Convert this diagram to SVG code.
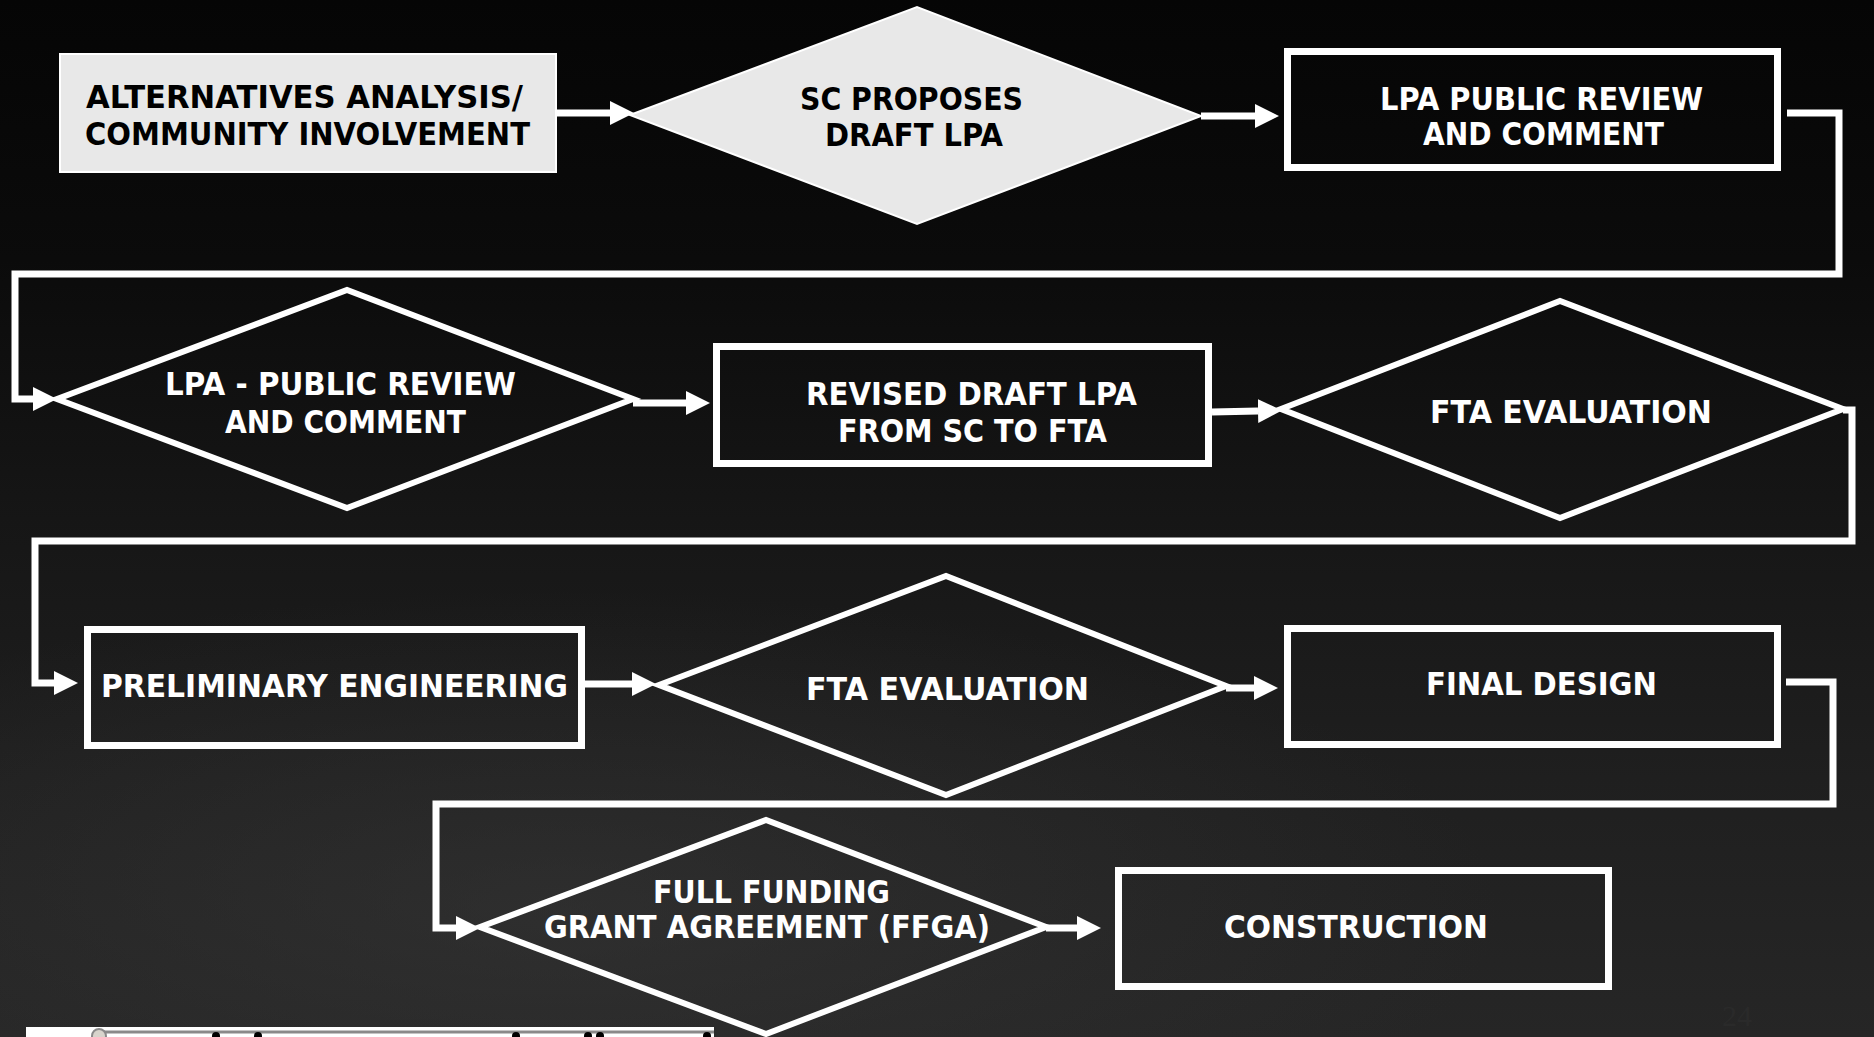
<svg xmlns="http://www.w3.org/2000/svg" width="1874" height="1037" viewBox="0 0 1874 1037">
<defs>
<linearGradient id="bg" x1="0" y1="0" x2="0" y2="1">
<stop offset="0" stop-color="#050505"/>
<stop offset="0.25" stop-color="#0b0b0b"/>
<stop offset="0.5" stop-color="#161616"/>
<stop offset="0.75" stop-color="#1f1f1f"/>
<stop offset="1" stop-color="#262626"/>
</linearGradient>
<radialGradient id="glow" cx="0.3" cy="0.8" r="0.5">
<stop offset="0" stop-color="#3a3a3a" stop-opacity="0.5"/>
<stop offset="1" stop-color="#3a3a3a" stop-opacity="0"/>
</radialGradient>
<marker id="ah" markerUnits="userSpaceOnUse" markerWidth="24" markerHeight="24" refX="0" refY="12" orient="auto">
<path d="M0,0 L24,12 L0,24 Z" fill="#ffffff"/>
</marker>
<style>
.lt{font-family:"DejaVu Sans","Liberation Sans",sans-serif;font-weight:bold;font-size:32px;fill:#ffffff}
.dk{font-family:"DejaVu Sans","Liberation Sans",sans-serif;font-weight:bold;font-size:32px;fill:#000000}
.box{fill:none;stroke:#ffffff;stroke-width:7}
.dia{fill:none;stroke:#ffffff;stroke-width:6;stroke-linejoin:miter}
.light{fill:#e8e8e8;stroke:#ffffff;stroke-width:2}
.con{fill:none;stroke:#ffffff;stroke-width:7;stroke-linejoin:miter}
</style>
</defs>
<rect x="0" y="0" width="1874" height="1037" fill="url(#bg)"/>
<rect x="0" y="400" width="1874" height="637" fill="url(#glow)"/>

<g id="connectors">
<line class="con" x1="556" y1="113" x2="610" y2="113" marker-end="url(#ah)"/>
<line class="con" x1="1201" y1="116" x2="1255" y2="116" marker-end="url(#ah)"/>
<path class="con" d="M1787,113 H1839 V274 H15 V399 H33" marker-end="url(#ah)"/>
<line class="con" x1="633" y1="403" x2="686" y2="403" marker-end="url(#ah)"/>
<line class="con" x1="1212" y1="412" x2="1258" y2="411" marker-end="url(#ah)"/>
<path class="con" d="M1843,410 H1852 V541 H35 V683 H54" marker-end="url(#ah)"/>
<line class="con" x1="585" y1="684" x2="632" y2="684" marker-end="url(#ah)"/>
<line class="con" x1="1226" y1="688" x2="1254" y2="688" marker-end="url(#ah)"/>
<path class="con" d="M1786,682 H1833 V804 H436 V928 H456" marker-end="url(#ah)"/>
<line class="con" x1="1046" y1="928" x2="1077" y2="928" marker-end="url(#ah)"/>
</g>

<g id="n1">
<rect class="light" x="60" y="54" width="496" height="118"/>
<text class="dk" x="86" y="108" textLength="437" lengthAdjust="spacingAndGlyphs">ALTERNATIVES ANALYSIS/</text>
<text class="dk" x="85" y="145" textLength="445" lengthAdjust="spacingAndGlyphs">COMMUNITY INVOLVEMENT</text>
</g>

<g id="n2">
<polygon class="light" points="630,115 917,7 1201,116 917,224"/>
<text class="dk" x="800" y="110" textLength="223" lengthAdjust="spacingAndGlyphs">SC PROPOSES</text>
<text class="dk" x="825" y="146" textLength="178" lengthAdjust="spacingAndGlyphs">DRAFT LPA</text>
</g>

<g id="n3">
<rect class="box" x="1287.5" y="51.5" width="490" height="116"/>
<text class="lt" x="1380" y="110" textLength="323" lengthAdjust="spacingAndGlyphs">LPA PUBLIC REVIEW</text>
<text class="lt" x="1423" y="145" textLength="241" lengthAdjust="spacingAndGlyphs">AND COMMENT</text>
</g>

<g id="n4">
<polygon class="dia" points="57,399 347,290 633,399 347,508"/>
<text class="lt" x="165" y="395" textLength="351" lengthAdjust="spacingAndGlyphs">LPA - PUBLIC REVIEW</text>
<text class="lt" x="225" y="433" textLength="241" lengthAdjust="spacingAndGlyphs">AND COMMENT</text>
</g>

<g id="n5">
<rect class="box" x="716.5" y="346.5" width="492" height="117"/>
<text class="lt" x="806" y="405" textLength="331" lengthAdjust="spacingAndGlyphs">REVISED DRAFT LPA</text>
<text class="lt" x="838" y="442" textLength="269" lengthAdjust="spacingAndGlyphs">FROM SC TO FTA</text>
</g>

<g id="n6">
<polygon class="dia" points="1281,409 1560,301 1843,409 1560,518"/>
<text class="lt" x="1430" y="423" textLength="282" lengthAdjust="spacingAndGlyphs">FTA EVALUATION</text>
</g>

<g id="n7">
<rect class="box" x="87.5" y="629.5" width="494" height="116"/>
<text class="lt" x="101" y="697" textLength="467" lengthAdjust="spacingAndGlyphs">PRELIMINARY ENGINEERING</text>
</g>

<g id="n8">
<polygon class="dia" points="659,685 946,576 1226,686 946,795"/>
<text class="lt" x="806" y="700" textLength="283" lengthAdjust="spacingAndGlyphs">FTA EVALUATION</text>
</g>

<g id="n9">
<rect class="box" x="1287.5" y="628.5" width="490" height="116"/>
<text class="lt" x="1426" y="695" textLength="231" lengthAdjust="spacingAndGlyphs">FINAL DESIGN</text>
</g>

<g id="n10">
<polygon class="dia" points="480,927 766,820 1046,927 766,1034"/>
<text class="lt" x="653" y="903" textLength="237" lengthAdjust="spacingAndGlyphs">FULL FUNDING</text>
<text class="lt" x="544" y="938" textLength="446" lengthAdjust="spacingAndGlyphs">GRANT AGREEMENT (FFGA)</text>
</g>

<g id="n11">
<rect class="box" x="1118.5" y="870.5" width="490" height="116"/>
<text class="lt" x="1224" y="938" textLength="264" lengthAdjust="spacingAndGlyphs">CONSTRUCTION</text>
</g>

<g id="footer">
<rect x="26" y="1027" width="688" height="12" fill="#ffffff"/>
<line x1="99" y1="1032" x2="714" y2="1032" stroke="#8a8a8a" stroke-width="3"/>
<circle cx="99" cy="1036" r="7" fill="#d8d4cc" stroke="#8a8a8a" stroke-width="2"/>
<circle cx="216" cy="1036" r="4" fill="#000"/>
<circle cx="258" cy="1036" r="4" fill="#000"/>
<circle cx="516" cy="1036" r="4" fill="#000"/>
<circle cx="588" cy="1036" r="4" fill="#000"/>
<circle cx="600" cy="1036" r="4" fill="#000"/>
<circle cx="707" cy="1036" r="4" fill="#000"/>
<text x="1722" y="1026" font-family="'Liberation Serif',serif" font-size="30" fill="#2a2a2a">24</text>
</g>
</svg>
